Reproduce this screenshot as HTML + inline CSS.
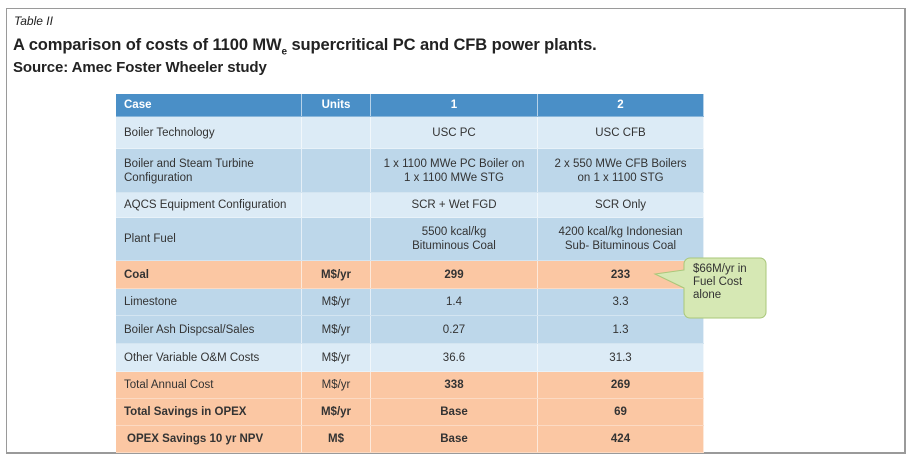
<!DOCTYPE html>
<html><head><meta charset="utf-8"><style>
body{margin:0;width:912px;height:462px;background:#fff;font-family:"Liberation Sans",sans-serif;position:relative;overflow:hidden}
.frame{position:absolute;left:6px;top:8px;width:900px;height:446px;border:1px solid #9a9a9a;border-right-width:2px;border-bottom-width:2px;box-sizing:border-box}
.t{position:absolute;color:#222}
.row{position:absolute;left:116px;width:588px;display:flex;font-size:11.5px;color:#333;border-bottom:1px solid rgba(255,255,255,.35);box-sizing:border-box}
.row div{display:flex;align-items:center;border-right:1px solid rgba(255,255,255,.6);box-sizing:border-box;line-height:14px}
.c0{width:186px;padding-left:8px}
.c1{width:69px;justify-content:center;text-align:center}
.c2{width:167px;justify-content:center;text-align:center}
.c3{width:166px;justify-content:center;text-align:center}
.L{background:#dcebf6}.M{background:#bdd7ea}.O{background:#fbc7a3}.H{background:#4a8fc7;color:#fff;font-weight:bold}
.b{font-weight:bold}
</style></head><body>
<div class="frame"></div>
<div class="t" style="left:14px;top:14px;font-size:12px;font-style:italic">Table II</div>
<div class="t" style="left:13px;top:36px;font-size:16.5px;font-weight:bold;letter-spacing:-0.1px">A comparison of costs of 1100 MW<sub style="font-size:10px">e</sub> supercritical PC and CFB power plants.</div>
<div class="t" style="left:13px;top:59px;font-size:15px;font-weight:bold;letter-spacing:-0.1px">Source: Amec Foster Wheeler study</div>

<div class="row H" style="top:94px;height:23px;color:#fff"><div class="c0">Case</div><div class="c1">Units</div><div class="c2">1</div><div class="c3">2</div></div>
<div class="row L" style="top:117px;height:32px"><div class="c0">Boiler Technology</div><div class="c1"></div><div class="c2">USC PC</div><div class="c3">USC CFB</div></div>
<div class="row M" style="top:149px;height:44px"><div class="c0">Boiler and Steam Turbine<br>Configuration</div><div class="c1"></div><div class="c2">1 x 1100 MWe PC Boiler on<br>1 x 1100 MWe STG</div><div class="c3">2 x 550 MWe CFB Boilers<br>on 1 x 1100 STG</div></div>
<div class="row L" style="top:193px;height:25px"><div class="c0">AQCS Equipment Configuration</div><div class="c1"></div><div class="c2">SCR + Wet FGD</div><div class="c3">SCR Only</div></div>
<div class="row M" style="top:218px;height:43px"><div class="c0">Plant Fuel</div><div class="c1"></div><div class="c2">5500 kcal/kg<br>Bituminous Coal</div><div class="c3">4200 kcal/kg Indonesian<br>Sub- Bituminous Coal</div></div>
<div class="row O b" style="top:261px;height:28px"><div class="c0">Coal</div><div class="c1">M$/yr</div><div class="c2">299</div><div class="c3">233</div></div>
<div class="row M" style="top:289px;height:27px"><div class="c0">Limestone</div><div class="c1">M$/yr</div><div class="c2">1.4</div><div class="c3">3.3</div></div>
<div class="row M" style="top:316px;height:28px"><div class="c0">Boiler Ash Dispcsal/Sales</div><div class="c1">M$/yr</div><div class="c2">0.27</div><div class="c3">1.3</div></div>
<div class="row L" style="top:344px;height:28px"><div class="c0">Other Variable O&amp;M Costs</div><div class="c1">M$/yr</div><div class="c2">36.6</div><div class="c3">31.3</div></div>
<div class="row O" style="top:372px;height:27px"><div class="c0">Total Annual Cost</div><div class="c1">M$/yr</div><div class="c2 b">338</div><div class="c3 b">269</div></div>
<div class="row O b" style="top:399px;height:27px"><div class="c0">Total Savings in OPEX</div><div class="c1">M$/yr</div><div class="c2">Base</div><div class="c3">69</div></div>
<div class="row O b" style="top:426px;height:27px"><div class="c0" style="padding-left:11px">OPEX Savings 10 yr NPV</div><div class="c1">M$</div><div class="c2">Base</div><div class="c3">424</div></div>

<svg style="position:absolute;left:0;top:0" width="912" height="462">
<path d="M690 258 h70 a6 6 0 0 1 6 6 v48 a6 6 0 0 1 -6 6 h-70 a6 6 0 0 1 -6 -6 v-24 l-29 -14 l29 -4 v-6 a6 6 0 0 1 6 -6z" fill="#d6e8b4" stroke="#a9c77a" stroke-width="1"/>
</svg>
<div class="t" style="left:693px;top:263px;font-size:11.5px;line-height:13px;color:#333">$66M/yr in<br>Fuel Cost<br>alone</div>
</body></html>
